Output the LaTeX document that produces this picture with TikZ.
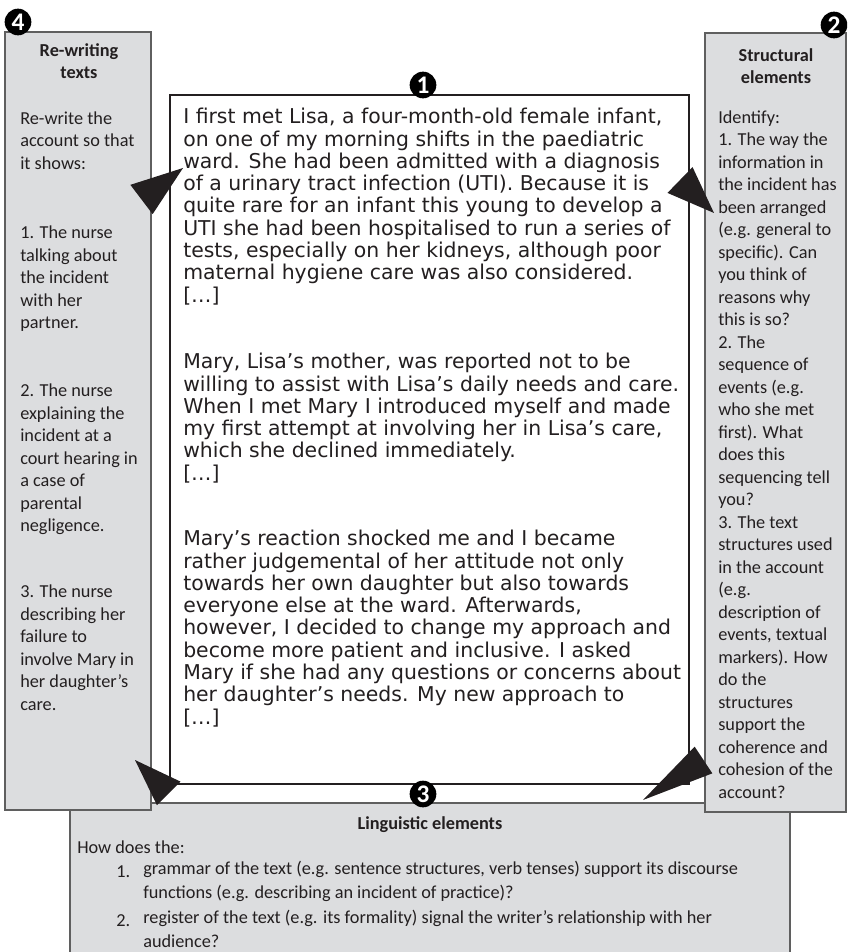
\documentclass[tikz,border=0pt]{standalone}
\usepackage{fontspec}
\setmainfont{Carlito}
\newfontfamily\storyfont{DejaVu Sans}
\usetikzlibrary{calc}

\definecolor{panelgray}{RGB}{220,221,223}
\definecolor{panelline}{RGB}{95,95,95}
\definecolor{ink}{RGB}{35,31,32}

\tikzset{
	panel/.style={draw=panelline, fill=panelgray, line width=1pt},
	story/.style={draw=ink, fill=white, line width=1pt},
	para/.style={anchor=north west, inner sep=0pt, align=left, text=ink,
		font=\fontsize{13.7}{16.875}\selectfont, execute at begin node=\strut},
	head/.style={anchor=north, inner sep=0pt, align=center, text=ink,
		font=\bfseries\fontsize{13.7}{16.5}\selectfont, execute at begin node=\strut},
	storypara/.style={anchor=north west, inner sep=0pt, align=left, text=ink,
		font=\storyfont\fontsize{15.3}{16.725}\selectfont, execute at begin node=\strut},
	badge/.style={circle, fill=black, minimum size=20pt, inner sep=0pt,
		text=white, font=\bfseries\fontsize{19}{19}\selectfont}
}

% black pointer triangle: tip, middle of base, half width
\newcommand{\pointer}[3]{\fill[ink] ($(#2)!#3!90:(#1)$) -- (#1) -- ($(#2)!#3!-90:(#1)$) -- cycle;}

\begin{document}
\begin{tikzpicture}[x=0.75pt, y=-0.75pt]
	\clip (0,0) rectangle (847,952);
	% panels
	\path[panel] (70,803) rectangle (790,960);
	\path[panel] (5,32) rectangle (151,810);
	\path[panel] (705,33) rectangle (846,812);
	\path[story] (170,95) rectangle (689,784);

	% the account
	\node[storypara] (acc1) at (183,108) {I first met Lisa, a four-month-old female infant,\\
		on one of my morning shifts in the paediatric\\
		ward. She had been admitted with a diagnosis\\
		of a urinary tract infection (UTI). Because it is\\
		quite rare for an infant this young to develop a\\
		UTI she had been hospitalised to run a series of\\
		tests, especially on her kidneys, although poor\\
		maternal hygiene care was also considered.\\
		{[…]}};
	\node[storypara] (acc2) at (183,353) {Mary, Lisa’s mother, was reported not to be\\
		willing to assist with Lisa’s daily needs and care.\\
		When I met Mary I introduced myself and made\\
		my first attempt at involving her in Lisa’s care,\\
		which she declined immediately.\\
		{[…]}};
	\node[storypara] (acc3) at (183,530) {Mary’s reaction shocked me and I became\\
		rather judgemental of her attitude not only\\
		towards her own daughter but also towards\\
		everyone else at the ward. Afterwards,\\
		however, I decided to change my approach and\\
		become more patient and inclusive. I asked\\
		Mary if she had any questions or concerns about\\
		her daughter’s needs. My new approach to\\
		{[…]}};

	% Re-writing texts
	\node[head] (rwhead) at (79,43.5) {Re-writing\\texts};
	\node[para] (rw0) at (20,111.5) {Re-write the\\account so that\\it shows:};
	\node[para] (rw1) at (20,226) {1. The nurse\\talking about\\the incident\\with her\\partner.};
	\node[para] (rw2) at (20,384) {2. The nurse\\explaining the\\incident at a\\court hearing in\\a case of\\parental\\negligence.};
	\node[para] (rw3) at (20,585) {3. The nurse\\describing her\\failure to\\involve Mary in\\her daughter’s\\care.};

	% Structural elements
	\node[head] (sthead) at (776,48.5) {Structural\\elements};
	\node[para] (st) at (718,110.5) {Identify:\\1. The way the\\information in\\the incident has\\been arranged\\
		(e.g. general to\\specific). Can\\you think of\\reasons why\\this is so?\\
		2. The\\sequence of\\events (e.g.\\who she met\\first). What\\does this\\sequencing tell\\you?\\
		3. The text\\structures used\\in the account\\(e.g.\\description of\\events, textual\\markers). How\\
		do the\\structures\\support the\\coherence and\\cohesion of the\\account?};

	% Linguistic elements
	\node[head] (lghead) at (430,814) {Linguistic elements};
	\node[para] (lg0) at (77,837) {How does the:};
	\node[para] (lgn1) at (116,861) {1.};
	\node[para, font=\fontsize{13.7}{17.6}\selectfont] (lg1) at (143,861) {grammar of the text (e.g. sentence structures, verb tenses) support its discourse\\functions (e.g. describing an incident of practice)?};
	\node[para] (lgn2) at (116,910) {2.};
	\node[para, font=\fontsize{13.7}{17.6}\selectfont] (lg2) at (143,910) {register of the text (e.g. its formality) signal the writer’s relationship with her\\audience?};

	% pointers 1 -> 2 -> 3 -> 4 -> 1
	\coordinate (p41) at (183,168);
	\coordinate (p41b) at (141.5,199.5);
	\coordinate (p12) at (714,213);
	\coordinate (p12b) at (680,180);
	\coordinate (p23) at (643,800);
	\coordinate (p23b) at (703.5,760);
	\coordinate (p34) at (135,760);
	\coordinate (p34b) at (168.7,793.4);
	\pointer{p41}{p41b}{13.8pt}
	\pointer{p12}{p12b}{13.5pt}
	\pointer{p23}{p23b}{12pt}
	\pointer{p34}{p34b}{12.5pt}

	% numbers
	\node[badge] (n1) at (423,85) {1};
	\node[badge] (n2) at (834,25) {2};
	\node[badge] (n3) at (423,794) {3};
	\node[badge] (n4) at (18,22) {4};
\end{tikzpicture}
\end{document}
